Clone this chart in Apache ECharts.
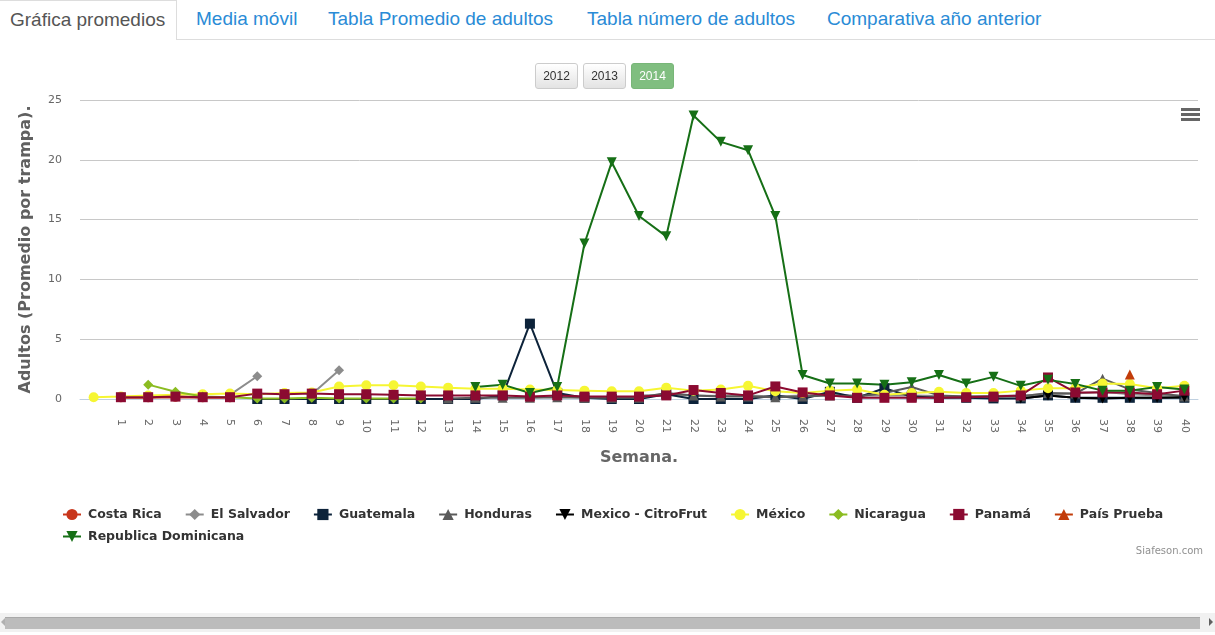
<!DOCTYPE html>
<html>
<head>
<meta charset="utf-8">
<script src="https://cdn.jsdelivr.net/npm/echarts@6/dist/echarts.min.js"></script>
<style>
body { margin: 0; background: #fff; overflow: hidden; width: 1215px; height: 635px; position: relative; font-family: "Liberation Sans", Arial, sans-serif; }
.tab { position: absolute; top: 0; height: 39px; line-height: 37px; font-size: 19px; color: #2a8bd6; white-space: nowrap; }
.tab.active { left: 0; width: 176px; color: #555; border-right: 1px solid #ddd; border-top: 1px solid #ddd; background: #fff; height: 39px; z-index: 2; }
.tabline { position: absolute; left: 177px; right: 0; top: 39px; border-top: 1px solid #ddd; }
.btn { position: absolute; top: 63px; width: 41px; height: 24px; line-height: 24px; text-align: center; font-size: 12px; color: #333; border: 1px solid #ccc; border-radius: 3px; background: linear-gradient(#fff, #e3e3e3); z-index: 5; }
.btn.on { background: #80be80; border-color: #78b678; color: #fff; }
#chartView { position: absolute; left: 0; top: 40px; width: 1215px; height: 570px; }
.sbar { position: absolute; left: 0; right: 0; top: 613px; height: 19px; background: #f1f1f1; }
.sthumb { position: absolute; left: 5px; right: 15px; top: 4px; height: 11px; background: #bcbcbc; border-top: 1px solid #a9a9a9; }
.arr { position: absolute; top: 5px; width: 0; height: 0; border-top: 4px solid transparent; border-bottom: 4px solid transparent; }
</style>
</head>
<body>
<div class="tab active"><span style="position:absolute;left:10px;">Gráfica promedios</span></div>
<div class="tab" style="left:196px;">Media móvil</div>
<div class="tab" style="left:328px;">Tabla Promedio de adultos</div>
<div class="tab" style="left:587px;">Tabla número de adultos</div>
<div class="tab" style="left:827px;">Comparativa año anterior</div>
<div class="tabline"></div>
<div class="btn" style="left:535px;">2012</div>
<div class="btn" style="left:583px;">2013</div>
<div class="btn on" style="left:631px;">2014</div>
<div id="chartView"></div>
<div class="sbar">
	<div class="arr" style="left:1px;border-right:4px solid #b0b0b0;"></div>
	<div class="sthumb"></div>
	<div class="arr" style="right:2px;border-left:4px solid #606060;"></div>
</div>
<script>
var semanas = ['', '1', '2', '3', '4', '5', '6', '7', '8', '9', '10', '11', '12', '13', '14', '15', '16', '17', '18', '19', '20',
	'21', '22', '23', '24', '25', '26', '27', '28', '29', '30', '31', '32', '33', '34', '35', '36', '37', '38', '39', '40'];
var yTicks = [0, 5, 10, 15, 20, 25];

// valores por semana (indice 0 = sin etiqueta)
var costaRica = [null, 0.1, 0.1, 0.15, 0.1, 0.1, null, null, null, null, null, null, null, null, null, null, null, null, null, null, null,
	null, null, null, null, null, null, null, null, null, null, null, null, null, null, null, null, null, null, null, null];
var elSalvador = [null, null, null, null, null, 0.35, 1.9, null, 0.4, 2.4, null, null, null, null, null, null, null, null, null, null, 0.3,
	0.35, 0.3, 0.25, 0.3, 0.2, 0.3, 0.35, 0.3, 0.3, 0.3, 0.25, 0.2, 0.25, 0.3, 0.4, 0.45, 0.6, 0.4, 0.3, 0.3];
var guatemala = [null, null, null, null, null, null, 0, 0, 0, 0, 0, 0, 0, 0, 0, 0.3, 6.3, 0.5, 0.1, 0, 0,
	0.4, 0, 0, 0, 0.3, 0, 0.6, 0.1, 0.9, 0.2, 0.1, 0.1, 0.05, 0.05, 0.3, 0.1, 0.1, 0.1, 0.1, 0.1];
var honduras = [null, null, null, null, null, null, null, null, null, null, null, null, null, 0.05, 0.1, 0.1, 0.1, 0.15, 0.1, 0.1, 0.1,
	0.5, 0.3, 0.2, 0.2, 0.15, 0.2, 0.3, 0.2, 0.5, 1.0, 0.3, 0.2, 0.2, 0.2, 0.5, 0.45, 1.7, 0.8, 0.5, 0.2];
var citroFrut = [null, null, null, null, null, null, null, null, null, null, null, null, null, null, null, null, null, null, null, null, null,
	null, null, null, null, null, null, null, null, null, null, null, null, null, 0.05, 0.3, 0.1, 0.05, 0.1, 0.1, 0.15];
var mexico = [0.15, 0.2, 0.3, 0.35, 0.4, 0.45, 0.4, 0.5, 0.55, 1.05, 1.15, 1.15, 1.05, 0.95, 0.85, 0.85, 0.8, 0.75, 0.7, 0.65, 0.65,
	0.95, 0.7, 0.8, 1.1, 0.65, 0.5, 0.7, 0.8, 0.35, 0.5, 0.6, 0.5, 0.5, 0.7, 0.9, 0.9, 1.3, 1.25, 0.9, 1.1];
var nicaragua = [null, null, 1.2, 0.6, 0.2, 0.15, 0.05, 0.05, 0.1, 0.05, 0.05, 0.05, 0.05, null, null, null, null, null, null, null, null,
	null, null, null, null, null, null, null, null, null, null, null, null, null, null, null, null, null, null, null, null];
var panama = [null, 0.15, 0.15, 0.2, 0.15, 0.15, 0.45, 0.4, 0.45, 0.4, 0.4, 0.35, 0.3, 0.3, 0.3, 0.3, 0.2, 0.3, 0.2, 0.2, 0.2,
	0.3, 0.75, 0.5, 0.3, 1.05, 0.55, 0.3, 0.1, 0.1, 0.1, 0.1, 0.15, 0.2, 0.3, 1.8, 0.55, 0.55, 0.55, 0.4, 0.7];
var paisPrueba = [null, null, null, null, null, null, null, null, null, null, null, null, null, null, null, null, null, null, null, null, null,
	null, null, null, null, null, null, null, null, null, null, null, null, null, null, null, null, null, 2.05, null, null];
var repDominicana = [null, null, null, null, null, null, null, null, null, null, null, null, null, null, 1.0, 1.2, 0.5, 1.0, 13.0, 19.8, 15.3,
	13.6, 23.7, 21.5, 20.8, 15.3, 2.0, 1.3, 1.3, 1.2, 1.4, 2.0, 1.3, 1.85, 1.1, 1.6, 1.25, 0.7, 0.7, 1.0, 0.8];

var fuente = '"DejaVu Sans", Verdana, sans-serif';

function serie(nombre, datos, color, simbolo, tam, rot) {
	return {
		name: nombre,
		type: 'line',
		data: datos,
		symbol: simbolo,
		symbolSize: tam,
		symbolRotate: rot || 0,
		showAllSymbol: true,
		connectNulls: false,
		itemStyle: { color: color },
		lineStyle: { color: color, width: 2 },
		emphasis: { disabled: true }
	};
}

function leyenda(nombres, top) {
	return {
		data: nombres,
		left: 62,
		top: top,
		padding: 0,
		itemWidth: 18,
		itemHeight: 14,
		itemGap: 23,
		textStyle: {
			fontFamily: fuente,
			fontSize: 12.5,
			fontWeight: 'bold',
			color: '#333',
			padding: [0, 0, 0, 2]
		}
	};
}

var chartView = echarts.init(document.getElementById('chartView'));
var ops = {
	animation: false,
	grid: {
		left: 80,
		right: 17,
		top: 60,
		bottom: 211
	},
	legend: [
		leyenda(['Costa Rica', 'El Salvador', 'Guatemala', 'Honduras', 'Mexico - CitroFrut', 'México', 'Nicaragua', 'Panamá', 'País Prueba'], 468),
		leyenda(['Republica Dominicana'], 490)
	],
	xAxis: {
		type: 'category',
		data: semanas,
		boundaryGap: true,
		name: 'Semana.',
		nameLocation: 'middle',
		nameGap: 51,
		nameTextStyle: { fontFamily: fuente, fontSize: 16, fontWeight: 'bold', color: '#666' },
		axisLine: { lineStyle: { color: '#C0D0E0', width: 1 } },
		axisTick: { length: 10, lineStyle: { color: '#C0D0E0' } },
		axisLabel: { rotate: -90, interval: 0, margin: 20, color: '#666', fontSize: 11, fontFamily: fuente },
		splitLine: { show: false }
	},
	yAxis: {
		type: 'value',
		min: yTicks[0],
		max: yTicks[yTicks.length - 1],
		interval: 5,
		name: 'Adultos (Promedio por trampa).',
		nameLocation: 'middle',
		nameGap: 46,
		nameRotate: 90,
		nameTextStyle: { fontFamily: fuente, fontSize: 16, fontWeight: 'bold', color: '#606060' },
		axisLine: { show: false },
		axisTick: { show: false },
		axisLabel: { margin: 18, color: '#666', fontSize: 11, fontFamily: fuente },
		splitLine: { lineStyle: { color: '#C8C8C8', width: 1 } }
	},
	graphic: [
		{ type: 'rect', right: 15, top: 68, shape: { width: 19, height: 3 }, style: { fill: '#666' } },
		{ type: 'rect', right: 15, top: 73, shape: { width: 19, height: 3 }, style: { fill: '#666' } },
		{ type: 'rect', right: 15, top: 78, shape: { width: 19, height: 3 }, style: { fill: '#666' } },
		{ type: 'text', right: 12, top: 506, style: { text: 'Siafeson.com', fill: '#909090', fontSize: 10, fontFamily: fuente } }
	],
	series: [
		serie('Costa Rica', costaRica, '#c8361b', 'circle', 9),
		serie('El Salvador', elSalvador, '#8c8c8c', 'diamond', 10),
		serie('Guatemala', guatemala, '#0d233a', 'rect', 10),
		serie('Honduras', honduras, '#5a5a5a', 'triangle', 10),
		serie('Mexico - CitroFrut', citroFrut, '#000000', 'triangle', 10, 180),
		serie('México', mexico, '#f6f633', 'circle', 10),
		serie('Nicaragua', nicaragua, '#8bbc21', 'diamond', 10),
		serie('Panamá', panama, '#8b0a31', 'rect', 10),
		serie('País Prueba', paisPrueba, '#c23c0a', 'triangle', 10),
		serie('Republica Dominicana', repDominicana, '#166f16', 'triangle', 10, 180)
	]
};
chartView.setOption(ops);
</script>
</body>
</html>
